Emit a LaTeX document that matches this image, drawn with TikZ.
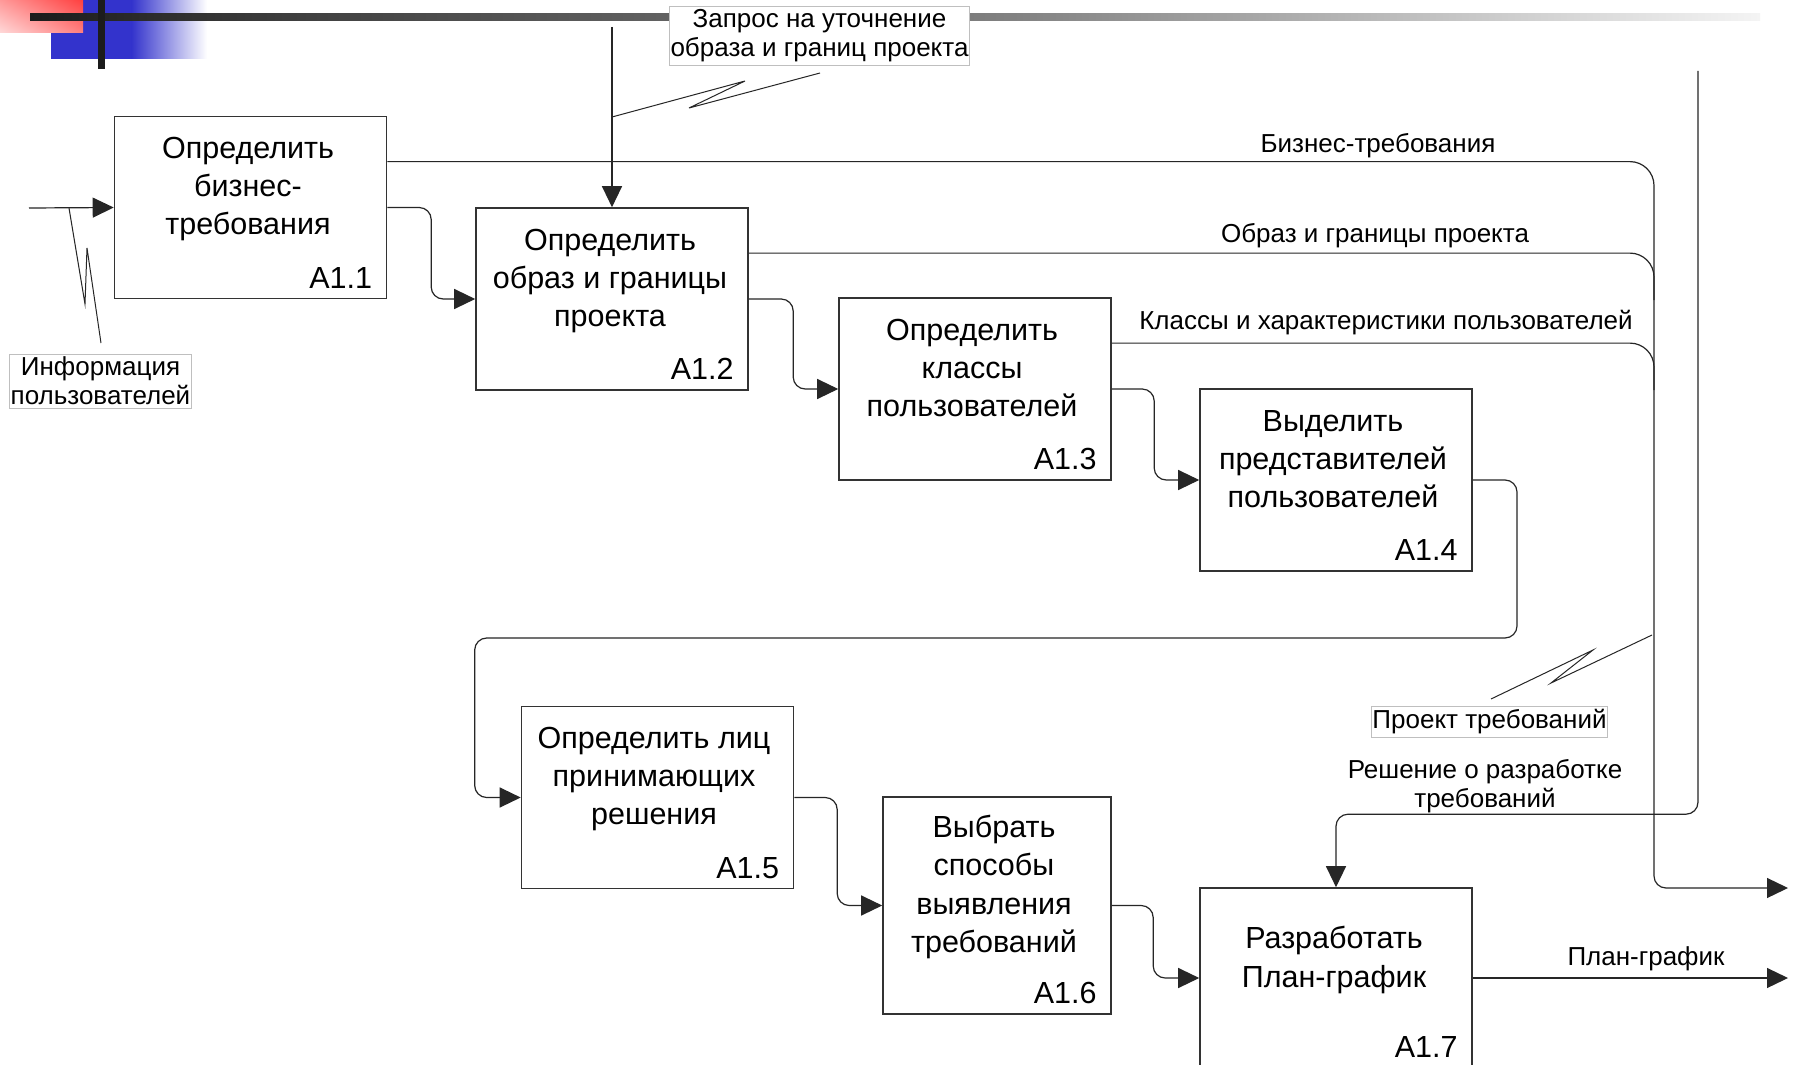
\documentclass[tikz,border=0pt]{standalone}
\usepackage{fontspec}
\setmainfont{Liberation Sans}
\usetikzlibrary{arrows.meta,calc,shadings}
\definecolor{decoblue}{HTML}{3333CC}
\definecolor{gA}{HTML}{1C1C1C}
\definecolor{gB}{HTML}{404040}
\definecolor{gC}{HTML}{808080}
\definecolor{gD}{HTML}{F4F4F4}
\newcommand\procfont{\fontsize{30.5}{38.3}\selectfont}
\newcommand\labfont{\fontsize{26}{29}\selectfont}
\begin{document}
\begin{tikzpicture}[x=1pt,y=-1pt,
  proc/.style={draw=black!80, line width=1.6pt, minimum width=272pt, minimum height=182pt, inner sep=0pt},
  ptext/.style={font=\procfont, align=center, inner sep=0pt},
  pnum/.style={font=\procfont, anchor=base east, inner sep=0pt},
  flow/.style={draw=black!85, line width=1.2pt, rounded corners=12pt},
  tip/.style={-{Triangle[length=21pt,width=20pt]}},
  lbl/.style={font=\labfont, inner sep=0pt},
  tag/.style={font=\labfont, draw=black!25, line width=0.8pt, fill=white, align=center, inner xsep=1pt, inner ysep=3pt},
  squig/.style={draw=black!85, line width=1pt}]
\useasboundingbox (0,0) rectangle (1799,1065);
\clip (0,0) rectangle (1799,1065);
\fill[white] (0,0) rectangle (1799,1065);
% decoration
\fill[decoblue] (51,0) rectangle (132,59);
\shade[left color=decoblue, right color=white] (131.5,0) rectangle (207,59);
\shade[upper left=red!40!white, upper right=red!75!white, lower left=red!15!white, lower right=red!50!white] (0,0) rectangle (83,33);
\shade[left color=gA, right color=gB] (30,14) rectangle (300.5,21);
\shade[left color=gB, right color=gC] (300,14) rectangle (1000.5,21);
\shade[left color=gC, right color=gD] (1000,14) rectangle (1760,21);
\fill[gA] (98,0) rectangle (105,69);

% boxes
\node[proc] (b1) at (250.5,207.5) {};
\node[proc] (b2) at (612,299) {};
\node[proc] (b3) at (975,389) {};
\node[proc] (b4) at (1336,480) {};
\node[proc] (b5) at (657.5,797.5) {};
\node[proc, minimum width=228pt, minimum height=217pt] (b6) at (997,905.5) {};
\node[proc, minimum height=180pt] (b7) at (1336,978) {};

\node[ptext] (t1) at (248,189) {Определить\\бизнес-\\требования};
\node[ptext] (t2) at (610,281) {Определить\\образ и границы\\проекта};
\node[ptext] (t3) at (972,368) {Определить\\классы\\пользователей};
\node[ptext] (t4) at (1333,459) {Выделить\\представителей\\пользователей};
\node[ptext] (t5) at (654,779) {Определить лиц\\принимающих\\решения};
\node[ptext] (t6) at (994,887) {Выбрать\\способы\\выявления\\требований};
\node[ptext] (t7) at (1334,960) {Разработать\\План-график};

\node[pnum] (n1) at ($(b1.south east)+(-15,-11)$) {A1.1};
\node[pnum] (n2) at ($(b2.south east)+(-15,-11)$) {A1.2};
\node[pnum] (n3) at ($(b3.south east)+(-15,-11)$) {A1.3};
\node[pnum] (n4) at ($(b4.south east)+(-15,-11)$) {A1.4};
\node[pnum] (n5) at ($(b5.south east)+(-15,-11)$) {A1.5};
\node[pnum] (n6) at ($(b6.south east)+(-15,-11)$) {A1.6};
\node[pnum] (n7) at ($(b7.south east)+(-15,-11)$) {A1.7};

% coordinates
\coordinate (in1) at (29,208);
\coordinate (c2top) at (612,27);
\coordinate (c7top) at (1698,71);
\coordinate (vjoin) at (1654,500);
\coordinate (j2) at (1654,300);
\coordinate (j3) at (1654,390);
\coordinate (outbr) at (1788,888);
\coordinate (outplan) at (1788,978);
\coordinate (r45) at (1517,638);

% connectors
\draw[flow,tip] (in1) -- (b1.west);
\draw[flow,tip] (c2top) -- (b2.north);
\draw[flow,tip] (b1.east) -| ([xshift=-44pt]b2.west) -- (b2.west);
\draw[flow,tip] (b2.east) -| ([xshift=-45pt]b3.west) -- (b3.west);
\draw[flow,tip] (b3.east) -| ([xshift=-45pt]b4.west) -- (b4.west);
\draw[flow,tip] (b4.east) -| (r45) -| ([xshift=-46pt]b5.west) -- (b5.west);
\draw[flow,tip] (b5.east) -| ([xshift=-45pt]b6.west) -- (b6.west);
\draw[flow,tip] (b6.east) -| ([xshift=-46pt]b7.west) -- (b7.west);
\draw[flow,tip] (b7.east) -- (outplan);
\draw[flow,rounded corners=24pt] ($(b2.north east)!0.25!(b2.south east)$) -| (j2);
\draw[flow,rounded corners=24pt] ($(b3.north east)!0.25!(b3.south east)$) -| (j3);
\draw[flow,tip] ($(b1.north east)!0.25!(b1.south east)$) [rounded corners=24pt] -| (vjoin) [rounded corners=12pt] |- (outbr);
\draw[flow,tip] (c7top) |- ([yshift=73pt]b7.north) -- (b7.north);

% labels
\node[tag] (tzap) at (819.5,36) {Запрос на уточнение\\образа и границ проекта};
\node[tag] (tinfo) at (100.5,381) {Информация\\пользователей};
\node[tag] (tproj) at (1489.5,722) {Проект требований};
\node[lbl, anchor=base] (lbiz) at (1378,152) {Бизнес-требования};
\node[lbl, anchor=base] (lobr) at (1375,242) {Образ и границы проекта};
\node[lbl, anchor=base] (lcls) at (1386,329) {Классы и характеристики пользователей};
\node[lbl, align=center] (lres) at (1485,786) {Решение о разработке\\требований};
\node[lbl, anchor=base] (lplan) at (1646,965) {План-график};

% squiggles
\draw[squig] (612,117) -- (745,81) -- (689,108) -- (820,73);
\draw[squig] (69,208) -- (85,304) -- (87,248) -- (101,343);
\draw[squig] (1652,635) -- (1551,683) -- (1593,650) -- (1491,699);
\end{tikzpicture}
\end{document}
